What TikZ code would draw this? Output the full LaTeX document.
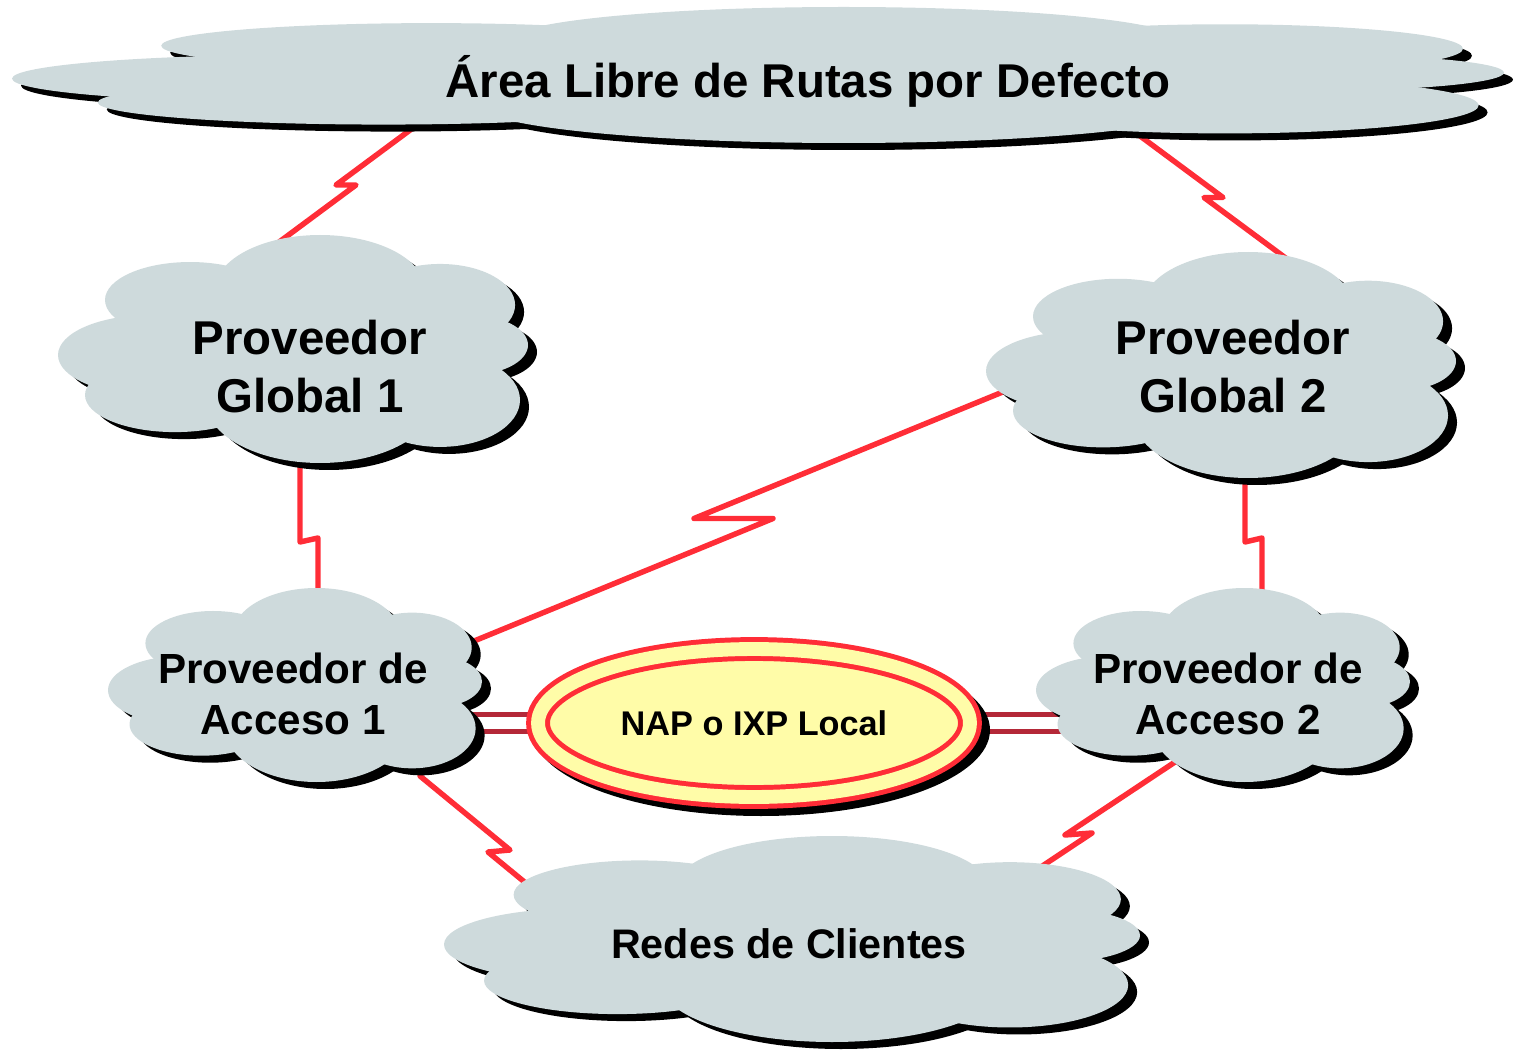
\documentclass[tikz,border=0pt]{standalone}
\usepackage{fontspec}
\setmainfont{Liberation Sans}
\usetikzlibrary{calc,shapes.geometric}
\pgfdeclarelayer{links}
\pgfdeclarelayer{back}
\pgfsetlayers{links,back,main}
\definecolor{cloudgray}{RGB}{206,218,220}
\definecolor{linkred}{RGB}{255,45,55}
\definecolor{dkred}{RGB}{180,40,56}
\definecolor{napyellow}{RGB}{255,252,168}
\newcommand{\puffs}{-0.609/0.053/0.391/0.351, -0.438/-0.430/0.362/0.333,
  0.115/-0.518/0.447/0.482, 0.626/-0.386/0.319/0.360, 0.753/-0.035/0.247/0.263,
  0.626/0.447/0.340/0.412, 0.115/0.447/0.489/0.553, -0.502/0.404/0.383/0.325,
  0.03/0.01/0.64/0.61}
\newcommand{\nube}[4]{%
  \begin{scope}[shift={(#1+9,#2+7)},xscale=#3,yscale=#4]
    \foreach \px/\py/\a/\b in \puffs
      \fill[black] (\px,\py) ellipse [x radius=\a, y radius=\b];
  \end{scope}
  \begin{scope}[shift={(#1,#2)},xscale=#3,yscale=#4]
    \foreach \px/\py/\a/\b in \puffs
      \fill[cloudgray] (\px,\py) ellipse [x radius=\a, y radius=\b];
  \end{scope}}
\tikzset{
  txt/.style={align=center, inner sep=0pt, font=\bfseries},
  titulo/.style={txt, font=\bfseries\fontsize{27}{32}\selectfont},
  prov/.style={txt, font=\bfseries\fontsize{27}{33}\selectfont},
  acc/.style={txt, font=\bfseries\fontsize{24}{29.5}\selectfont},
  clientes/.style={txt, font=\bfseries\fontsize{23.5}{28}\selectfont},
  nap/.style={ellipse, draw=linkred, line width=2.83pt, double=napyellow,
    double distance=7.9pt, fill=napyellow, minimum width=8.64cm,
    minimum height=2.96cm, inner sep=0pt, font=\bfseries\fontsize{19.5}{23}\selectfont},
  zz/.style={draw=linkred, line width=3.1pt, line cap=round, line join=round,
    to path={-- ($(\tikztostart)!.5!(\tikztotarget)+(#1)$)
      -- ($(\tikztostart)!.5!(\tikztotarget)-(#1)$) -- (\tikztotarget)}},
  enlace/.style={draw=dkred, line width=2.4pt, double=white, double distance=7.2pt}
}
\begin{document}
\begin{tikzpicture}[x=0.02cm, y=-0.02cm]
  \useasboundingbox (0,0) rectangle (1524,1050);
  \node[titulo] (top) at (808,81) {Área Libre de Rutas por Defecto};
  \node[prov] (g1) at (310,367) {Proveedor\\Global 1};
  \node[prov] (g2) at (1233,367) {Proveedor\\Global 2};
  \node[acc] (a1) at (293,694) {Proveedor de\\Acceso 1};
  \node[acc] (a2) at (1228,694) {Proveedor de\\Acceso 2};
  \node[nap] (nap) at (754,723) {NAP o IXP Local};
  \node[clientes] (cli) at (789,944) {Redes de Clientes};

  \begin{pgfonlayer}{back}
    \nube{758}{75}{746}{68}
    \nube{293}{349}{235}{114}
    \nube{1221}{365}{235}{113}
    \nube{295}{685}{187}{97}
    \nube{1223}{685}{187}{97}
    \nube{792}{939}{348}{103}
    \fill[black] ($(nap)+(7,7)$) ellipse [x radius=229, y radius=86];
  \end{pgfonlayer}

  \begin{pgfonlayer}{links}
    \draw[zz={-10,0}] ($(top)+(-383,38)$) to ($(g1)+(-43,-116)$);
    \draw[zz={9.5,0}] ($(top)+(328,52)$) to ($(g2)+(58,-105)$);
    \draw[zz={-9,2}] ($(g1)+(-10,63)$) to ($(a1)+(25,-44)$);
    \draw[zz={-8.5,2}] ($(g2)+(12,73)$) to ($(a2)+(34,-54)$);
    \draw[zz={-39.5,0}] ($(g2)+(-223,22)$) to ($(a1)+(164,-46)$);
    \draw[zz={11,-1}] ($(a1)+(127,82)$) to ($(cli)+(-211,-18)$);
    \draw[zz={-13.5,1}] ($(a2)+(-53,68)$) to ($(cli)+(193,-38)$);
    \draw[enlace] (a1 |- nap) -- (nap.center) -- (nap -| a2);
  \end{pgfonlayer}
\end{tikzpicture}
\end{document}
